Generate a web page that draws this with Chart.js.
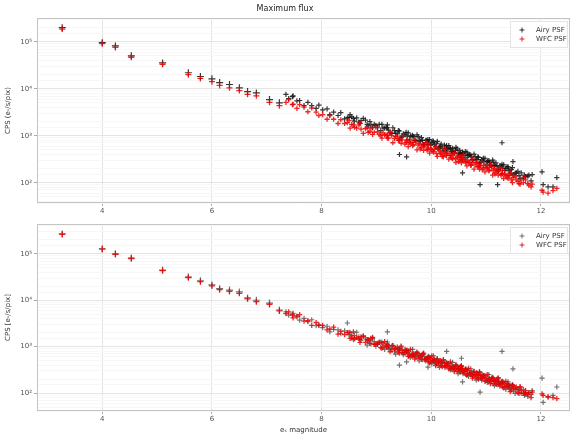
<!DOCTYPE html>
<html>
<head>
<meta charset="utf-8">
<script src="https://cdn.jsdelivr.net/npm/chart.js@4/dist/chart.umd.min.js"></script>
<style>
  html, body { margin: 0; padding: 0; background: #fff; }
  .panel { position: relative; width: 577px; height: 217px; }
</style>
</head>
<body>
<div class="panel"><canvas id="top-chart"></canvas></div>
<div class="panel"><canvas id="bottom-chart"></canvas></div>
<script>
// star magnitudes: bright stars, main band, denser band, then scattered stars
const magnitude = [
  3.27, 4.00, 4.24, 4.53, 5.10, 5.57, 5.79, 6.00, 6.14, 6.32, 6.50, 6.65, 6.81, 7.05, 7.23,
  7.35, 7.40, 7.48, 7.55, 7.60, 7.68, 7.75, 7.82, 7.90, 7.95,
  8.02, 8.10, 8.15, 8.22, 8.30, 8.35, 8.42, 8.50, 8.55, 8.60,
  8.68, 8.72, 8.80, 8.85, 8.90, 8.96, 9.02, 9.08, 9.12, 9.18,
  9.22, 9.28, 9.33, 9.38, 9.42, 9.47, 9.52, 9.56, 9.60, 9.65,
  9.68, 9.72, 9.76, 9.80, 9.84, 9.88, 9.92, 9.95, 9.99, 10.03,
  10.06, 10.10, 10.13, 10.17, 10.20, 10.24, 10.27, 10.30, 10.34, 10.37,
  10.40, 10.44, 10.47, 10.50, 10.53, 10.57, 10.60, 10.63, 10.66, 10.70,
  10.73, 10.76, 10.80, 10.83, 10.86, 10.90, 10.93, 10.96, 11.00, 11.03,
  11.06, 11.10, 11.13, 11.16, 11.20, 11.23, 11.27, 11.30, 11.34, 11.38,
  11.42, 11.46, 11.50, 11.55, 11.60, 11.64, 11.68, 11.72, 11.76, 11.82,
  8.52, 8.58, 8.64, 8.70, 8.76, 8.83, 8.88, 8.93, 8.99, 9.05,
  9.10, 9.15, 9.20, 9.25, 9.30, 9.35, 9.40, 9.45, 9.49, 9.54,
  9.58, 9.62, 9.66, 9.70, 9.74, 9.78, 9.82, 9.86, 9.90, 9.94,
  9.97, 10.01, 10.04, 10.08, 10.11, 10.15, 10.18, 10.22, 10.25, 10.28,
  10.32, 10.35, 10.39, 10.42, 10.45, 10.49, 10.52, 10.55, 10.58, 10.62,
  10.65, 10.68, 10.72, 10.75, 10.78, 10.82, 10.85, 10.88, 10.92, 10.95,
  10.98, 11.02, 11.05, 11.08, 11.12, 11.15, 11.18, 11.22, 11.25, 11.29,
  11.32, 11.36, 11.40, 11.44, 11.48, 11.53, 11.58, 11.62, 11.70, 11.78,
  7.47, 8.47, 9.20, 9.42, 9.55, 9.94, 10.28, 10.55, 10.57, 10.89,
  11.21, 11.29, 11.40, 11.49, 11.84, 12.02, 12.04, 12.13, 12.22, 12.29
];

// log10 of the maximum flux, same order as magnitude
const airyTopLog = [
  5.30, 4.98, 4.91, 4.70, 4.55, 4.34, 4.26, 4.21, 4.13, 4.09, 4.02, 3.94, 3.91, 3.77, 3.70,
  3.88, 3.79, 3.85, 3.74, 3.75, 3.64, 3.71, 3.64, 3.58, 3.65,
  3.55, 3.57, 3.45, 3.50, 3.43, 3.49, 3.36, 3.39, 3.40, 3.31,
  3.29, 3.32, 3.33, 3.21, 3.23, 3.24, 3.17, 3.11, 3.17, 3.18,
  3.12, 3.05, 3.11, 3.04, 3.10, 2.99, 3.02, 2.99, 2.91, 2.99,
  2.98, 2.89, 2.98, 2.88, 2.90, 2.81, 2.90, 2.85, 2.80, 2.89,
  2.81, 2.84, 2.73, 2.78, 2.73, 2.80, 2.68, 2.72, 2.74, 2.66,
  2.65, 2.69, 2.72, 2.59, 2.62, 2.65, 2.58, 2.53, 2.59, 2.60,
  2.55, 2.48, 2.55, 2.49, 2.54, 2.44, 2.48, 2.45, 2.38, 2.46,
  2.44, 2.36, 2.44, 2.35, 2.36, 2.28, 2.36, 2.31, 2.26, 2.34,
  2.25, 2.28, 2.17, 2.21, 2.15, 2.21, 2.10, 2.13, 2.14, 2.04,
  3.45, 3.37, 3.38, 3.26, 3.37, 3.24, 3.30, 3.17, 3.22, 3.24,
  3.24, 3.16, 3.17, 3.06, 3.17, 3.05, 3.11, 2.96, 3.04, 3.07,
  3.06, 2.99, 3.01, 2.90, 3.02, 2.90, 2.96, 2.81, 2.90, 2.92,
  2.92, 2.85, 2.87, 2.76, 2.88, 2.76, 2.82, 2.67, 2.76, 2.79,
  2.79, 2.72, 2.73, 2.63, 2.75, 2.63, 2.69, 2.54, 2.63, 2.66,
  2.65, 2.58, 2.59, 2.49, 2.61, 2.49, 2.55, 2.41, 2.49, 2.52,
  2.52, 2.45, 2.47, 2.37, 2.48, 2.37, 2.42, 2.28, 2.36, 2.39,
  2.38, 2.30, 2.31, 2.20, 2.32, 2.20, 2.24, 2.09, 2.16, 2.16,
  3.83, 3.38, 3.23, 2.60, 2.55, 2.82, 2.72, 2.60, 2.21, 1.96,
  1.96, 2.85, 2.34, 2.45, 2.17, 2.23, 1.96, 1.91, 1.91, 2.11
];
const wfcTopLog = [
  5.27, 4.96, 4.88, 4.67, 4.52, 4.30, 4.22, 4.15, 4.07, 4.02, 3.96, 3.88, 3.85, 3.71, 3.64,
  3.71, 3.77, 3.67, 3.58, 3.66, 3.61, 3.51, 3.59, 3.50, 3.43,
  3.45, 3.35, 3.43, 3.35, 3.26, 3.34, 3.26, 3.32, 3.24, 3.18,
  3.23, 3.14, 3.15, 3.07, 3.16, 3.07, 3.08, 3.00, 3.06, 3.01,
  2.95, 3.00, 2.94, 2.99, 2.90, 2.91, 2.82, 2.91, 2.85, 2.86,
  2.81, 2.87, 2.80, 2.72, 2.81, 2.78, 2.70, 2.80, 2.72, 2.67,
  2.71, 2.62, 2.71, 2.63, 2.56, 2.65, 2.58, 2.65, 2.58, 2.53,
  2.59, 2.51, 2.54, 2.45, 2.55, 2.48, 2.49, 2.42, 2.48, 2.43,
  2.38, 2.43, 2.38, 2.44, 2.34, 2.36, 2.28, 2.37, 2.32, 2.33,
  2.27, 2.34, 2.26, 2.19, 2.27, 2.25, 2.16, 2.26, 2.18, 2.12,
  2.15, 2.06, 2.15, 2.06, 1.98, 2.06, 2.00, 2.06, 1.98, 1.91,
  3.16, 3.23, 3.16, 3.27, 3.05, 3.17, 3.09, 3.03, 3.18, 3.03,
  2.95, 3.02, 2.95, 3.07, 2.85, 2.98, 2.90, 2.84, 3.00, 2.86,
  2.77, 2.85, 2.79, 2.91, 2.70, 2.83, 2.75, 2.69, 2.86, 2.71,
  2.63, 2.71, 2.65, 2.77, 2.56, 2.69, 2.61, 2.55, 2.72, 2.58,
  2.50, 2.58, 2.51, 2.64, 2.43, 2.56, 2.48, 2.42, 2.59, 2.45,
  2.36, 2.44, 2.37, 2.50, 2.29, 2.42, 2.34, 2.29, 2.45, 2.31,
  2.23, 2.31, 2.25, 2.38, 2.16, 2.30, 2.21, 2.16, 2.32, 2.18,
  2.09, 2.16, 2.09, 2.21, 2.00, 2.13, 2.03, 1.97, 2.12, 1.95,
  3.66, 3.28, 3.02, 2.93, 2.89, 2.74, 2.62, 2.50, 2.49, 2.37,
  2.24, 2.20, 2.15, 2.11, 1.97, 1.84, 1.80, 1.78, 1.83, 1.88
];
const airyBottomLog = [
  5.43, 5.11, 5.00, 4.91, 4.65, 4.50, 4.42, 4.33, 4.25, 4.22, 4.18, 4.05, 4.00, 3.94, 3.79,
  3.75, 3.68, 3.72, 3.64, 3.57, 3.61, 3.54, 3.58, 3.45, 3.47,
  3.41, 3.44, 3.32, 3.37, 3.36, 3.28, 3.34, 3.26, 3.19, 3.24,
  3.21, 3.14, 3.19, 3.13, 3.06, 3.11, 3.05, 3.10, 2.99, 3.02,
  2.97, 3.01, 2.89, 2.94, 2.95, 2.87, 2.94, 2.87, 2.80, 2.86,
  2.85, 2.78, 2.85, 2.78, 2.72, 2.78, 2.73, 2.79, 2.67, 2.71,
  2.67, 2.71, 2.60, 2.65, 2.66, 2.59, 2.66, 2.59, 2.53, 2.59,
  2.57, 2.51, 2.58, 2.51, 2.45, 2.52, 2.46, 2.52, 2.41, 2.44,
  2.40, 2.44, 2.33, 2.39, 2.39, 2.32, 2.40, 2.33, 2.27, 2.33,
  2.31, 2.25, 2.31, 2.25, 2.18, 2.25, 2.19, 2.25, 2.13, 2.16,
  2.11, 2.15, 2.04, 2.08, 2.08, 2.00, 2.08, 2.00, 1.93, 1.97,
  3.30, 3.15, 3.31, 3.15, 3.23, 3.03, 3.14, 3.18, 3.01, 3.09,
  3.09, 2.94, 3.10, 2.95, 3.03, 2.84, 2.95, 2.99, 2.83, 2.92,
  2.91, 2.77, 2.94, 2.79, 2.88, 2.69, 2.80, 2.84, 2.69, 2.77,
  2.77, 2.63, 2.80, 2.65, 2.74, 2.55, 2.66, 2.70, 2.55, 2.64,
  2.64, 2.50, 2.66, 2.52, 2.61, 2.42, 2.53, 2.57, 2.42, 2.51,
  2.50, 2.36, 2.52, 2.38, 2.47, 2.28, 2.39, 2.44, 2.28, 2.37,
  2.37, 2.23, 2.40, 2.26, 2.34, 2.16, 2.26, 2.31, 2.15, 2.24,
  2.23, 2.08, 2.24, 2.09, 2.18, 1.99, 2.08, 2.12, 1.95, 2.01,
  3.70, 3.51, 3.32, 2.60, 2.67, 2.56, 2.90, 2.75, 2.24, 2.02,
  2.22, 2.90, 2.18, 2.52, 2.05, 2.32, 1.80, 1.91, 1.95, 2.13
];
const wfcBottomLog = [
  5.42, 5.10, 4.99, 4.90, 4.64, 4.49, 4.40, 4.31, 4.23, 4.19, 4.15, 4.03, 3.97, 3.91, 3.77,
  3.71, 3.75, 3.62, 3.66, 3.69, 3.55, 3.56, 3.46, 3.52, 3.46,
  3.46, 3.36, 3.38, 3.42, 3.27, 3.33, 3.26, 3.31, 3.23, 3.17,
  3.17, 3.21, 3.09, 3.15, 3.18, 3.05, 3.07, 2.98, 3.06, 3.01,
  3.02, 2.93, 2.95, 2.99, 2.86, 2.92, 2.86, 2.92, 2.84, 2.79,
  2.81, 2.85, 2.75, 2.80, 2.84, 2.72, 2.75, 2.67, 2.74, 2.70,
  2.72, 2.63, 2.66, 2.70, 2.57, 2.64, 2.58, 2.64, 2.57, 2.52,
  2.53, 2.58, 2.48, 2.53, 2.57, 2.46, 2.48, 2.40, 2.48, 2.43,
  2.45, 2.36, 2.39, 2.44, 2.30, 2.37, 2.32, 2.38, 2.31, 2.26,
  2.27, 2.32, 2.21, 2.27, 2.30, 2.19, 2.21, 2.13, 2.20, 2.15,
  2.16, 2.07, 2.10, 2.13, 1.99, 2.05, 2.00, 2.05, 1.97, 1.90,
  3.18, 3.32, 3.20, 3.09, 3.22, 3.15, 3.07, 3.20, 3.05, 3.09,
  2.97, 3.11, 2.99, 2.89, 3.02, 2.96, 2.88, 3.01, 2.87, 2.92,
  2.79, 2.94, 2.83, 2.73, 2.87, 2.81, 2.73, 2.86, 2.73, 2.77,
  2.65, 2.80, 2.69, 2.59, 2.73, 2.67, 2.59, 2.72, 2.59, 2.64,
  2.52, 2.67, 2.55, 2.46, 2.60, 2.54, 2.46, 2.59, 2.46, 2.51,
  2.38, 2.53, 2.41, 2.32, 2.46, 2.40, 2.32, 2.46, 2.32, 2.37,
  2.25, 2.40, 2.29, 2.20, 2.33, 2.28, 2.19, 2.33, 2.19, 2.24,
  2.11, 2.25, 2.13, 2.03, 2.17, 2.11, 2.01, 2.14, 1.99, 2.01,
  3.68, 3.30, 3.05, 2.93, 2.89, 2.74, 2.60, 2.52, 2.51, 2.39,
  2.26, 2.24, 2.20, 2.16, 2.02, 1.98, 1.95, 1.92, 1.90, 1.88
];

const seriesLabels = ['Airy PSF', 'WFC PSF'];
const xTicks = [4, 6, 8, 10, 12];

const FONT = 'DejaVu Sans';
const WFC_COLOR = 'rgba(235,0,0,0.85)';

const sup = {'0':'⁰','1':'¹','2':'²','3':'³','4':'⁴','5':'⁵','6':'⁶','7':'⁷','8':'⁸','9':'⁹'};
const isDecade = v => Math.abs(Math.log10(v) - Math.round(Math.log10(v))) < 1e-6;
const decadeLabel = v => isDecade(v) ? '10' + String(Math.round(Math.log10(v))).split('').map(d => sup[d]).join('') : '';

const toPoints = logs => magnitude.map((m, i) => ({x: m, y: Math.pow(10, logs[i])}));

// axes frame + matplotlib-like legend inside the plot
const frameLegend = {
  id: 'frameLegend',
  afterDraw(chart) {
    const {ctx, chartArea: a} = chart;
    ctx.save();
    ctx.strokeStyle = '#c4c4c4';
    ctx.lineWidth = 1;
    ctx.strokeRect(a.left + 0.5, a.top + 0.5, a.width - 1, a.height - 1);

    const bx = a.right - 60, by = a.top + 3, bw = 57, bh = 26;
    ctx.fillStyle = 'rgba(255,255,255,0.85)';
    ctx.strokeStyle = '#e4e4e4';
    ctx.fillRect(bx, by, bw, bh);
    ctx.strokeRect(bx + 0.5, by + 0.5, bw, bh);

    ctx.font = '7px "' + FONT + '"';
    ctx.textBaseline = 'middle';
    chart.data.datasets.forEach((ds, i) => {
      const cy = by + 9 + i * 9;
      const cx = bx + 12;
      ctx.strokeStyle = ds.borderColor;
      ctx.beginPath();
      ctx.moveTo(cx - 2.5, cy); ctx.lineTo(cx + 2.5, cy);
      ctx.moveTo(cx, cy - 2.5); ctx.lineTo(cx, cy + 2.5);
      ctx.stroke();
      ctx.fillStyle = '#333';
      ctx.fillText(ds.label, bx + 26, cy);
    });
    ctx.restore();
  }
};

const makeChart = (id, cfg) => new Chart(document.getElementById(id), {
  type: 'scatter',
  data: {
    datasets: [{
      label: seriesLabels[0],
      data: toPoints(cfg.airy),
      borderColor: cfg.airyColor,
      backgroundColor: cfg.airyColor,
      pointStyle: 'cross',
      pointRadius: c => (c.raw && c.raw.x < 7.3) ? 3.5 : 2.6,
      borderWidth: 1.2,
      order: 1
    }, {
      label: seriesLabels[1],
      data: toPoints(cfg.wfc),
      borderColor: WFC_COLOR,
      backgroundColor: WFC_COLOR,
      pointStyle: 'cross',
      pointRadius: c => (c.raw && c.raw.x < 7.3) ? 3 : 2.6,
      borderWidth: 1.3,
      order: 0
    }]
  },
  options: {
    responsive: true,
    maintainAspectRatio: false,
    animation: false,
    layout: {padding: {top: cfg.padTop, right: 7, left: 0, bottom: 0}},
    plugins: {
      legend: {display: false},
      tooltip: {enabled: false},
      title: {
        display: !!cfg.title,
        text: cfg.title,
        color: '#222',
        font: {family: FONT, size: 8, weight: 'normal'},
        padding: {top: 4, bottom: 4.4}
      }
    },
    scales: {
      x: {
        type: 'linear',
        min: 2.81,
        max: 12.53,
        afterBuildTicks: s => { s.ticks = xTicks.map(v => ({value: v})); },
        ticks: {font: {family: FONT, size: 7}, color: '#555', padding: 1, maxRotation: 0},
        grid: {color: '#e4e4e4', tickLength: 3, tickColor: '#aaa'},
        border: {display: false},
        title: {
          display: !!cfg.xTitle,
          text: cfg.xTitle,
          color: '#333',
          font: {family: FONT, size: 7},
          padding: {top: 0, bottom: 0}
        },
        afterFit: s => { s.height = cfg.xHeight; }
      },
      y: {
        type: 'logarithmic',
        min: cfg.yMin,
        max: cfg.yMax,
        ticks: {autoSkip: false, callback: v => decadeLabel(v), font: {family: FONT, size: 7}, color: '#555', padding: 2},
        grid: {
          color: c => (c.tick && isDecade(c.tick.value)) ? '#e4e4e4' : '#f7f7f7',
          tickLength: 3,
          tickColor: c => (c.tick && isDecade(c.tick.value)) ? '#aaa' : 'rgba(0,0,0,0)'
        },
        border: {display: false},
        title: {
          display: true,
          text: cfg.yTitle,
          color: '#333',
          font: {family: FONT, size: 7},
          padding: {top: 4, bottom: 2}
        },
        afterFit: s => { s.width = 37; }
      }
    }
  },
  plugins: [frameLegend]
});

makeChart('top-chart', {
  airy: airyTopLog, wfc: wfcTopLog, airyColor: 'rgba(20,20,20,0.85)',
  title: 'Maximum flux', padTop: 0, xHeight: 14, xTitle: '',
  yMin: 37, yMax: 3.2e5, yTitle: 'CPS (e-/s/pix)'
});
makeChart('bottom-chart', {
  airy: airyBottomLog, wfc: wfcBottomLog, airyColor: 'rgba(70,70,70,0.75)',
  title: '', padTop: 7, xHeight: 23, xTitle: 'eₛ magnitude',
  yMin: 41, yMax: 4.4e5, yTitle: 'CPS [e-/s/pix]'
});
</script>
</body>
</html>
